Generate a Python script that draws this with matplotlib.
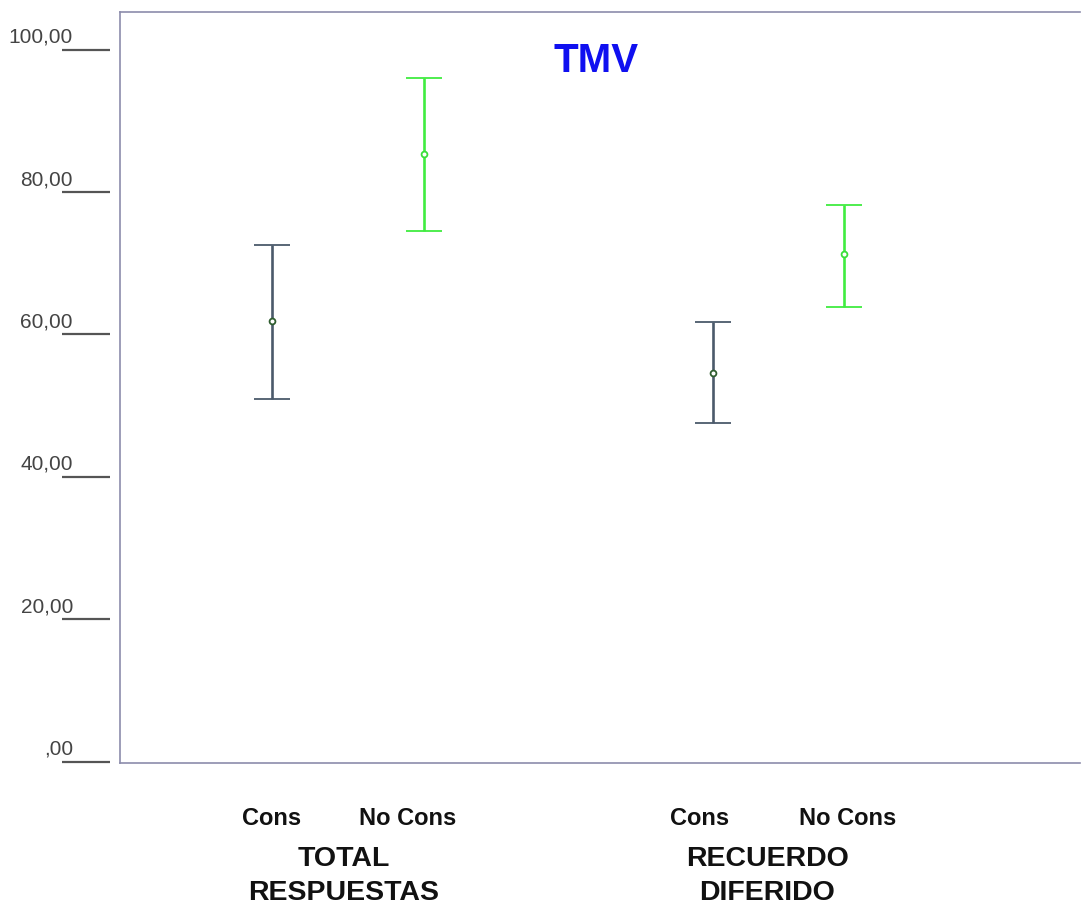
import matplotlib
matplotlib.use("Agg")
import matplotlib.pyplot as plt
import matplotlib.transforms as m_trans

# data (mean with lower / upper interval bounds)
groups = ["TOTAL\nRESPUESTAS", "RECUERDO\nDIFERIDO"]
conditions = ["Cons", "No Cons"]
means = [61.9, 85.4, 54.6, 71.3]
lower = [51.0, 74.5, 47.5, 63.9]
upper = [72.6, 96.0, 61.7, 78.2]
y_ticks = [0, 20, 40, 60, 80, 100]
y_tick_labels = [",00", "20,00", "40,00", "60,00", "80,00", "100,00"]

# layout (slot units along x)
bar_x = [1.0, 2.0, 3.9, 4.76]
cat_label_x = [1.0, 1.89, 3.81, 4.79]
group_label_x = [1.47, 4.26]
line_colors = ["#4b5a6b", "#40ec40"]
marker_colors = ["#2f5d2f", "#3ade3a"]

fig = plt.figure(figsize=(10.81, 9.05), dpi=100)
ax = fig.add_axes([120 / 1081, 142 / 905, 960 / 1081, 751 / 905])
ax.set_xlim(0, 960 / 152)
ax.set_ylim(-0.2, 105.3)

for ii in range(len(means)):
    c = ii % 2
    ax.errorbar(bar_x[ii], means[ii],
                yerr=[[means[ii] - lower[ii]], [upper[ii] - means[ii]]],
                fmt='o', color=line_colors[c], ecolor=line_colors[c],
                elinewidth=1.9, capsize=13, capthick=1.9,
                markersize=4.2, markerfacecolor='white',
                markeredgecolor=marker_colors[c], markeredgewidth=1.3)

ax.set_xticks([])
ax.set_yticks([])
for side in ['top', 'bottom', 'left']:
    ax.spines[side].set_color('#8c8cab')
    ax.spines[side].set_linewidth(1.2)
ax.spines['right'].set_visible(False)

# y "ticks": detached lines with labels sitting just above
ytrans = m_trans.blended_transform_factory(ax.transAxes, ax.transData)
for val, lab in zip(y_ticks, y_tick_labels):
    ax.plot([-58 / 960, -10 / 960], [val, val], color='#555555', lw=1.6,
            transform=ytrans, clip_on=False, solid_capstyle='butt')
    ax.text(-47 / 960, val + 0.4, lab, ha='right', va='bottom',
            fontsize=15, color='#444444', family='Liberation Sans',
            transform=ytrans)

ax.text(0.496, 0.935, "TMV", transform=ax.transAxes, ha='center',
        va='center', fontsize=29, fontweight='bold', color='#1010f0',
        family='Liberation Sans')

# category and group labels under the axes
xtrans = m_trans.blended_transform_factory(ax.transData, fig.transFigure)
for ii in range(len(means)):
    fig.text(cat_label_x[ii], 1 - 818 / 905, conditions[ii % 2],
             transform=xtrans, ha='center', va='center', fontsize=17,
             fontweight='bold', color='#111111', family='Liberation Sans')
for gx, g in zip(group_label_x, groups):
    fig.text(gx, 1 - 876 / 905, g, transform=xtrans, ha='center',
             va='center', fontsize=20.5, fontweight='bold', color='#111111',
             family='Liberation Sans', linespacing=1.4)

fig.savefig("out.png", dpi=100)
